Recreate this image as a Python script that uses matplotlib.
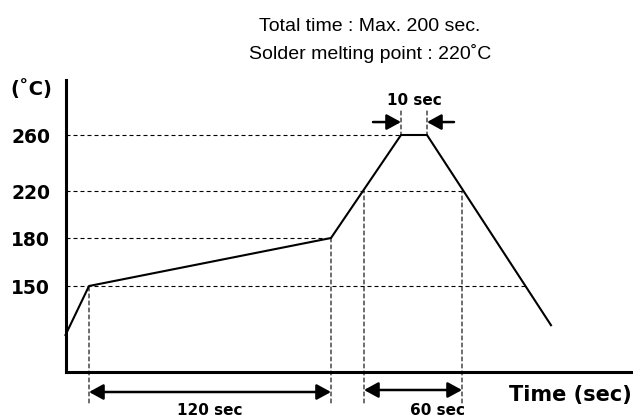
#!/usr/bin/env python3
# -*- coding: utf-8 -*-
"""
Reflow soldering profile (schematic), redrawn with matplotlib.
"""

import numpy as np
import matplotlib
matplotlib.use('Agg')
import matplotlib.pyplot as plt

# Profile vertices (time in sec, temperature in C).
profile_time = [0, 10, 130, 145, 155, 225]
profile_temp = [25, 150, 180, 260, 260, 50]

# Temperature levels on the y axis.
temp_ticks = [150, 180, 220, 260]

# Times where the curve meets the guide levels.
t_150_up = 10
t_180 = 130
t_220_up = 138
t_260_a = 145
t_260_b = 155
t_220_dn = 198
t_150_dn = 210

title_lines = ['Total time : Max. 200 sec.', 'Solder melting point : 220\u02daC']
soak_label = '120 sec'
melt_label = '60 sec'
peak_label = '10 sec'

# The drawing is schematic, so both axes use piecewise linear scales
# (knots, in pixels).
X_T = [-100, 0, 10, 130, 138, 145, 155, 198, 210, 225, 260, 400]
X_PX = [-134, 65.5, 89, 331, 364, 401, 427, 462, 526, 551, 633, 913]
Y_T = [-200, 0, 25, 150, 180, 220, 260, 300, 500]
Y_PX = [572, 372, 335, 286, 238, 191, 135, 80, -120]


def fwd_x(v):
    return np.interp(v, X_T, X_PX)


def inv_x(u):
    return np.interp(u, X_PX, X_T)


def fwd_y(v):
    return -np.interp(v, Y_T, Y_PX)


def inv_y(u):
    return np.interp(-np.asarray(u), Y_PX[::-1], Y_T[::-1])


W, H = 633, 419
fig = plt.figure(figsize=(W / 100, H / 100), dpi=100)
ax = fig.add_axes([65.5 / W, (H - 372) / H, (W - 65.5) / W, (372 - 80) / H])
ax.set_xscale('function', functions=(fwd_x, inv_x))
ax.set_yscale('function', functions=(fwd_y, inv_y))
ax.set_xlim(0, 260)
ax.set_ylim(0, 300)

for s in ['top', 'right']:
    ax.spines[s].set_visible(False)
for s in ['left', 'bottom']:
    ax.spines[s].set_linewidth(2.2)

dash = (0, (3.6, 2.7))
dlw = 0.8

# Horizontal guides.
for T, t_end in [(260, t_260_a), (220, t_220_dn), (180, t_180), (150, t_150_dn)]:
    ax.plot([0, t_end], [T, T], color='black', lw=dlw, linestyle=dash)

# Vertical guides down below the time axis.
for t, T in [(t_150_up, 150), (t_180, 180), (t_220_up, 220), (t_220_dn, 220)]:
    ax.annotate('', xy=(t, T), xycoords='data',
                xytext=(t, -0.106), textcoords=('data', 'axes fraction'),
                arrowprops=dict(arrowstyle='-', color='black', lw=dlw,
                                linestyle=dash, shrinkA=0, shrinkB=0),
                annotation_clip=False)

# Vertical guides above the peak.
for t in [t_260_a, t_260_b]:
    ax.annotate('', xy=(t, 260), xycoords='data',
                xytext=(0, 24), textcoords='offset pixels',
                arrowprops=dict(arrowstyle='-', color='black', lw=dlw,
                                linestyle=dash, shrinkA=0, shrinkB=0),
                annotation_clip=False)

# Profile curve.
ax.plot(profile_time, profile_temp, color='black', lw=1.5, clip_on=False)

# Span arrows.
head = '<|-|>,head_length=0.86,head_width=0.47'
ax.annotate('', xy=(t_180, -0.0685), xycoords=('data', 'axes fraction'),
            xytext=(t_150_up, -0.0685), textcoords=('data', 'axes fraction'),
            arrowprops=dict(arrowstyle=head, color='black', lw=1.8,
                            mutation_scale=10, shrinkA=0, shrinkB=0),
            annotation_clip=False)
ax.annotate('', xy=(t_220_dn, -0.0616), xycoords=('data', 'axes fraction'),
            xytext=(t_220_up, -0.0616), textcoords=('data', 'axes fraction'),
            arrowprops=dict(arrowstyle=head, color='black', lw=1.8,
                            mutation_scale=10, shrinkA=0, shrinkB=0),
            annotation_clip=False)
one = '-|>,head_length=0.86,head_width=0.47'
for t, dx in [(t_260_a, -28), (t_260_b, 27)]:
    ax.annotate('', xy=(t, 0.856), xycoords=('data', 'axes fraction'),
                xytext=(dx, 0), textcoords='offset pixels',
                arrowprops=dict(arrowstyle=one, color='black', lw=1.8,
                                mutation_scale=10, shrinkA=0, shrinkB=0),
                annotation_clip=False)

# Span labels.
ax.text((t_150_up + t_180) / 2, -0.133, soak_label, transform=ax.get_xaxis_transform(),
        ha='center', va='center', fontsize=11, fontweight='bold')
ax.text((t_220_up + t_220_dn) / 2, -0.133, melt_label, transform=ax.get_xaxis_transform(),
        ha='center', va='center', fontsize=11, fontweight='bold')
ax.text((t_260_a + t_260_b) / 2, 0.93, peak_label, transform=ax.get_xaxis_transform(),
        ha='center', va='center', fontsize=11, fontweight='bold')

# Ticks.
ax.set_xticks([])
ax.set_yticks(temp_ticks)
ax.set_yticklabels([str(v) for v in temp_ticks], fontweight='bold')
ax.tick_params(axis='y', length=0, pad=11, labelsize=13.5)
ax.minorticks_off()

# Axis labels and title.
fig.text(31 / W, 1 - 89 / H, '(\u02daC)', ha='center', va='center',
         fontsize=14, fontweight='bold')
fig.text(632 / W, 1 - 395 / H, 'Time (sec)', ha='right', va='center',
         fontsize=15, fontweight='bold')
fig.text(370 / W, 1 - 31 / H, title_lines[0], ha='center', va='baseline',
         fontsize=14, family='Liberation Sans')
fig.text(370 / W, 1 - 59 / H, title_lines[1], ha='center', va='baseline',
         fontsize=14, family='Liberation Sans')

plt.savefig('out.png', dpi=100)
